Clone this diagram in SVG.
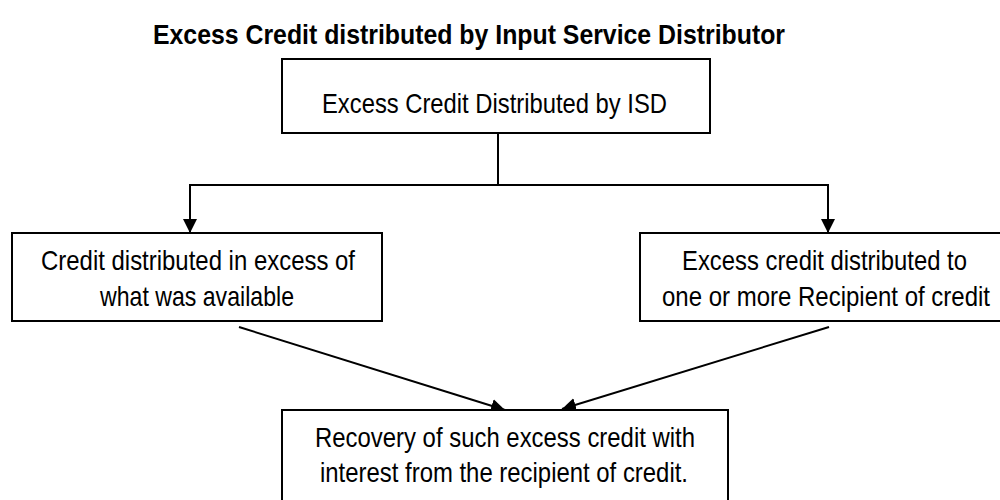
<svg xmlns="http://www.w3.org/2000/svg" width="1000" height="500" viewBox="0 0 1000 500">
<style>
.box{fill:#fff;stroke:#000;stroke-width:2}
.t{font-family:"Liberation Sans",Arial,sans-serif;font-size:28px;fill:#000;text-anchor:middle}
.title{font-family:"Liberation Sans",Arial,sans-serif;font-size:27px;font-weight:bold;fill:#000;text-anchor:middle}
.c{fill:none;stroke:#000;stroke-width:2}
</style>
<defs>
<marker id="ah" markerWidth="14" markerHeight="14" viewBox="0 0 14 14" refX="14" refY="7" orient="auto" markerUnits="userSpaceOnUse">
<path d="M0,0 L14,7 L0,14 Z" fill="#000"/>
</marker>
</defs>
<rect width="1000" height="500" fill="#fff"/>
<text class="title" x="469" y="44" textLength="632" lengthAdjust="spacingAndGlyphs">Excess Credit distributed by Input Service Distributor</text>
<g id="connectors">
<path class="c" d="M498,133 V185"/>
<path class="c" d="M190,185 H828"/>
<path class="c" d="M190,184 V233" marker-end="url(#ah)"/>
<path class="c" d="M828,184 V233" marker-end="url(#ah)"/>
<path class="c" d="M239,327 L505,410" marker-end="url(#ah)"/>
<path class="c" d="M829,327 L562,409" marker-end="url(#ah)"/>
</g>
<g id="n-top">
<rect class="box" x="282" y="59" width="428" height="74"/>
<text class="t" x="494.5" y="113" textLength="345" lengthAdjust="spacingAndGlyphs">Excess Credit Distributed by ISD</text>
</g>
<g id="n-left">
<rect class="box" x="12" y="233" width="370" height="88"/>
<text class="t" x="198" y="270" textLength="314" lengthAdjust="spacingAndGlyphs">Credit distributed in excess of</text>
<text class="t" x="197" y="306" textLength="194" lengthAdjust="spacingAndGlyphs">what was available</text>
</g>
<g id="n-right">
<rect class="box" x="640" y="233" width="372" height="88"/>
<text class="t" x="824.5" y="270" textLength="285" lengthAdjust="spacingAndGlyphs">Excess credit distributed to</text>
<text class="t" x="826" y="306" textLength="328" lengthAdjust="spacingAndGlyphs">one or more Recipient of credit</text>
</g>
<g id="n-bottom">
<rect class="box" x="282" y="410" width="446" height="100"/>
<text class="t" x="505" y="447" textLength="380" lengthAdjust="spacingAndGlyphs">Recovery of such excess credit with</text>
<text class="t" x="504" y="482" textLength="368" lengthAdjust="spacingAndGlyphs">interest from the recipient of credit.</text>
</g>
</svg>
